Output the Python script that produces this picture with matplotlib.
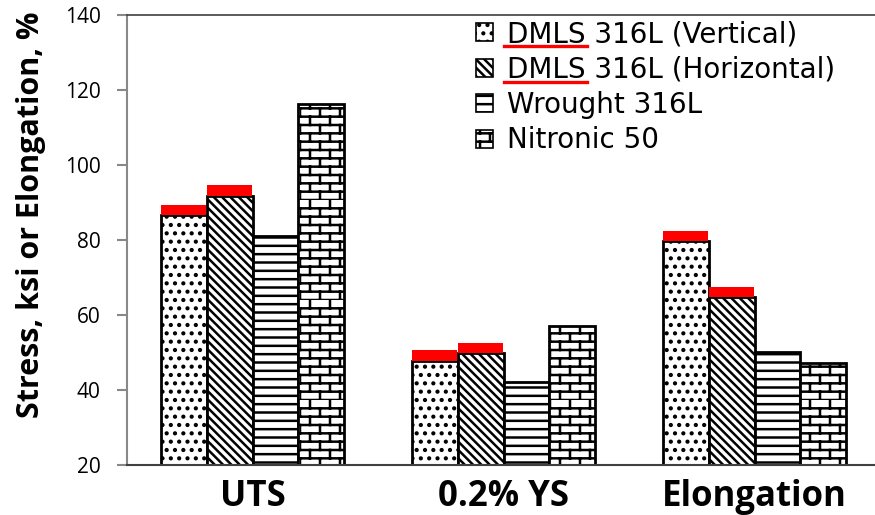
import warnings
import numpy as np
import matplotlib
matplotlib.use('Agg')
import matplotlib.pyplot as plt
from matplotlib import hatch as mhatch
from matplotlib.path import Path
from matplotlib.lines import Line2D

warnings.filterwarnings('ignore')

categories = ['UTS', '0.2% YS', 'Elongation']
series = ['DMLS 316L (Vertical)', 'DMLS 316L (Horizontal)', 'Wrought 316L', 'Nitronic 50']
vertical = [86.7, 47.8, 79.7]
vertical_spread = [2.6, 2.9, 2.7]
horizontal = [91.8, 49.8, 64.9]
horizontal_spread = [2.9, 2.8, 2.6]
wrought = [81.1, 42.2, 50.2]
nitronic = [116.2, 57.0, 47.1]


class BrickHatch(mhatch.HatchPatternBase):
    # staggered brick pattern, selected with 'b' in the hatch string
    def __init__(self, hatch, density):
        self.num_rows = hatch.count('b') * density * 2
        self.num_cols = 5
        self.num_vertices = self.num_rows * 2 * (1 + self.num_cols)

    def set_vertices_and_codes(self, vertices, codes):
        h = 1.0 / self.num_rows
        w = 1.0 / self.num_cols
        pts = []
        for r in range(self.num_rows):
            y = r * h
            pts += [(0, y), (1, y)]
            off = w / 2 if r % 2 else 0
            for c in range(self.num_cols):
                x = c * w + off
                pts += [(x, y), (x, y + h)]
        vertices[:] = pts
        codes[0::2] = Path.MOVETO
        codes[1::2] = Path.LINETO


mhatch._hatch_types.append(BrickHatch)

plt.rcParams['hatch.linewidth'] = 1.8
plt.rcParams['hatch.color'] = 'black'

fig = plt.figure(figsize=(8.75, 5.15), dpi=100)
ax = fig.add_axes([127 / 875, 50 / 515, 753 / 875, 450 / 515])

x = np.arange(len(categories))
width = 0.183
hatches = ['..', '\\\\\\\\', '--', 'b']
values = [vertical, horizontal, wrought, nitronic]
for i, (vals, h, name) in enumerate(zip(values, hatches, series)):
    pos = x + (i - 1.5) * width
    ax.bar(pos, np.array(vals) - 20, width, bottom=20, color='white',
           edgecolor='black', linewidth=2, hatch=h, label=name, zorder=2)

# red caps on the DMLS bars
for i, (vals, spread) in enumerate([(vertical, vertical_spread), (horizontal, horizontal_spread)]):
    pos = x + (i - 1.5) * width
    ax.bar(pos, spread, width * 0.97, bottom=vals, color='#ff0000',
           linewidth=0, zorder=3)

ax.set_xlim(-0.5, 2.5)
ax.set_ylim(20, 140)
ax.set_yticks(range(20, 141, 20))
ax.set_xticks(x)
ax.set_xticklabels(categories, fontsize=25, fontweight='bold', family='Open Sans')
ax.tick_params(axis='x', length=0, pad=10)
ax.tick_params(axis='y', direction='out', length=7, width=1.5, color='#888888',
               labelsize=15, pad=12)
for lab in ax.get_yticklabels():
    lab.set_family('Open Sans')

ax.spines['left'].set_color('#888888')
ax.spines['left'].set_linewidth(1.5)
ax.spines['bottom'].set_color('#404040')
ax.spines['bottom'].set_linewidth(1.5)
ax.spines['top'].set_color('#404040')
ax.spines['top'].set_linewidth(1.2)
ax.spines['right'].set_visible(False)

ax.set_ylabel('Stress, ksi or Elongation, %', fontsize=22, fontweight='bold',
              family='Open Sans')
ax.yaxis.set_label_coords(-0.108, 0.556)

leg = ax.legend(loc='upper left', bbox_to_anchor=(476 / 875, 1 - 20 / 515),
                bbox_transform=fig.transFigure, frameon=False,
                prop={'family': 'DejaVu Sans', 'size': 20},
                handlelength=0.62, handleheight=0.62, handletextpad=0.5,
                labelspacing=0.27, borderaxespad=0, borderpad=0)
for p in leg.get_patches():
    p.set_linewidth(1.2)

# red squiggle lines under "DMLS" in the first two legend entries
fig.canvas.draw()
renderer = fig.canvas.get_renderer()
probe = fig.text(0, 0, 'DMLS', family='DejaVu Sans', fontsize=20)
word_w = probe.get_window_extent(renderer).width
probe.remove()
for t in leg.get_texts()[:2]:
    bb = t.get_window_extent(renderer)
    x0 = (bb.x0 - 3) / fig.bbox.width
    x1 = (bb.x0 + word_w + 1) / fig.bbox.width
    y0 = (bb.y0 + 2) / fig.bbox.height
    fig.add_artist(Line2D([x0, x1], [y0, y0], color='#ff0000', linewidth=2.4,
                          transform=fig.transFigure))

fig.savefig('out.png', dpi=100)
